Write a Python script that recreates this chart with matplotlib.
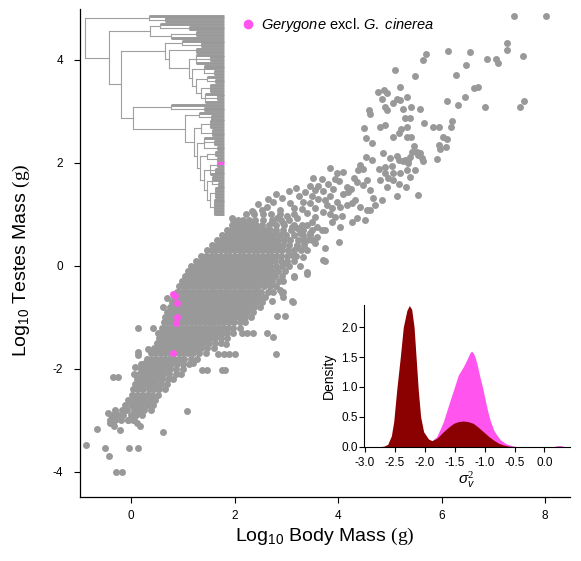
import matplotlib

matplotlib.use("Agg")
import matplotlib.pyplot as plt
from matplotlib.lines import Line2D

plt.rcParams["font.family"] = ["Liberation Sans", "DejaVu Sans"]
plt.rcParams["mathtext.fontset"] = "custom"
plt.rcParams["mathtext.rm"] = "Liberation Serif"
plt.rcParams["mathtext.it"] = "Liberation Sans:italic"
plt.rcParams["mathtext.sf"] = "Liberation Sans"
plt.rcParams["axes.unicode_minus"] = False

GREY = "#999999"
PINK = "#FF55EE"
DARK = "#8B0000"

# ---- scatter data: log10 body mass (x), log10 testes mass (y) ----
# sparse points in the lower tail, read one by one
lower_tail = [
    (-0.87, -3.48), (-0.50, -3.53), (-0.43, -3.70), (-0.28, -4.01), (-0.18, -4.01),
    (-0.04, -3.53), (0.13, -3.53), (-0.66, -3.16), (0.61, -3.22), (1.08, -2.81),
    (-0.44, -2.86), (-0.36, -2.93), (-0.40, -3.05), (-0.32, -3.12), (-0.22, -3.18),
    (-0.06, -2.99), (0.05, -2.99), (0.12, -3.05), (0.17, -3.12), (-0.34, -2.15),
    (-0.25, -2.15), (0.06, -2.10), (0.08, -1.96), (0.20, -1.90), (0.28, -1.88),
    (0.37, -1.90), (0.14, -1.67), (0.14, -1.73), (0.33, -1.61), (0.46, -1.67),
    (0.13, -1.21), (0.42, -1.21), (0.53, -1.31), (0.61, -0.80), (0.69, -0.62),
]

# sparse points around the right/lower edge of the main cloud
core_edge = [
    (1.69, -1.71), (1.79, -1.71), (1.90, -1.71), (2.01, -1.71), (2.80, -1.71),
    (1.75, -2.03), (1.82, -2.03), (1.37, -2.03), (1.46, -2.03), (1.20, -1.88),
    (2.62, -1.31), (2.75, -1.38), (2.82, -0.98), (2.98, -0.97), (3.12, -0.71),
    (2.94, -0.50), (2.94, -0.60), (2.14, -1.31), (2.25, -1.31), (2.36, -1.31),
    (1.84, -1.51), (3.15, -0.19), (3.40, -0.16), (3.71, 0.12), (3.11, -0.69),
    (2.88, -0.47), (2.91, -0.53), (2.72, -0.69),
]

# dense core, read row by row: (y, [x, ...])
core_rows = [
    (-3.0, [-0.40, -0.30, -0.20, -0.05, 0.04]),
    (-2.9, [-0.36, -0.25, -0.15, 0.00, 0.10, 0.22]),
    (-2.8, [-0.30, -0.18, -0.08, 0.05, 0.16, 0.26, 0.38]),
    (-2.7, [-0.12, 0.00, 0.10, 0.20, 0.31, 0.42]),
    (-2.6, [-0.05, 0.06, 0.15, 0.26, 0.36, 0.47]),
    (-2.5, [0.02, 0.12, 0.22, 0.30, 0.41, 0.52]),
    (-2.4, [0.04, 0.14, 0.24, 0.34, 0.44, 0.55, 0.66]),
    (-2.3, [0.08, 0.17, 0.27, 0.36, 0.46, 0.57, 0.70]),
    (-2.2, [0.12, 0.21, 0.30, 0.40, 0.50, 0.60, 0.71, 0.82]),
    (-2.1, [0.16, 0.25, 0.34, 0.43, 0.53, 0.62, 0.73, 0.86, 0.97]),
    (-2.0, [0.20, 0.29, 0.38, 0.47, 0.56, 0.65, 0.75, 0.86, 1.00]),
    (-1.9, [0.24, 0.33, 0.42, 0.51, 0.60, 0.69, 0.78, 0.88, 1.00, 1.12]),
    (-1.8, [0.30, 0.39, 0.48, 0.57, 0.66, 0.75, 0.84, 0.93, 1.03, 1.15, 1.28]),
    (-1.7, [0.38, 0.47, 0.56, 0.65, 0.74, 0.83, 0.92, 1.01, 1.10, 1.20, 1.32, 1.45]),
    (-1.6, [0.44, 0.53, 0.62, 0.71, 0.80, 0.89, 0.98, 1.07, 1.16, 1.25, 1.35, 1.47, 1.60]),
    (-1.5, [0.50, 0.59, 0.68, 0.77, 0.86, 0.95, 1.04, 1.13, 1.22, 1.31, 1.40, 1.50, 1.62, 1.74]),
    (-1.4, [0.54, 0.63, 0.72, 0.81, 0.90, 0.99, 1.08, 1.17, 1.26, 1.35, 1.44, 1.53, 1.63,
            1.74, 1.86]),
    (-1.3, [0.58, 0.67, 0.76, 0.85, 0.94, 1.03, 1.12, 1.21, 1.30, 1.39, 1.48, 1.57, 1.66,
            1.76, 1.86, 1.98]),
    (-1.2, [0.60, 0.69, 0.78, 0.87, 0.96, 1.05, 1.14, 1.23, 1.32, 1.41, 1.50, 1.59, 1.68,
            1.77, 1.87, 1.98, 2.10]),
    (-1.1, [0.63, 0.72, 0.81, 0.90, 0.99, 1.08, 1.17, 1.26, 1.35, 1.44, 1.53, 1.62, 1.71,
            1.80, 1.89, 1.99, 2.10, 2.21]),
    (-1.0, [0.66, 0.75, 0.84, 0.93, 1.02, 1.11, 1.20, 1.29, 1.38, 1.47, 1.56, 1.65, 1.74,
            1.83, 1.92, 2.01, 2.11, 2.21, 2.31]),
    (-0.9, [0.70, 0.79, 0.88, 0.97, 1.06, 1.15, 1.24, 1.33, 1.42, 1.51, 1.60, 1.69, 1.78,
            1.87, 1.96, 2.05, 2.14, 2.24, 2.35]),
    (-0.8, [0.75, 0.84, 0.93, 1.02, 1.11, 1.20, 1.29, 1.38, 1.47, 1.56, 1.65, 1.74, 1.83,
            1.92, 2.01, 2.10, 2.19, 2.28, 2.38, 2.50]),
    (-0.7, [0.79, 0.88, 0.97, 1.06, 1.15, 1.24, 1.33, 1.42, 1.51, 1.60, 1.69, 1.78, 1.87,
            1.96, 2.05, 2.14, 2.23, 2.32, 2.42, 2.53]),
    (-0.6, [0.84, 0.93, 1.02, 1.11, 1.20, 1.29, 1.38, 1.47, 1.56, 1.65, 1.74, 1.83, 1.92,
            2.01, 2.10, 2.19, 2.28, 2.37, 2.47, 2.58]),
    (-0.5, [0.89, 0.98, 1.07, 1.16, 1.25, 1.34, 1.43, 1.52, 1.61, 1.70, 1.79, 1.88, 1.97,
            2.06, 2.15, 2.24, 2.33, 2.42, 2.52, 2.64, 2.75]),
    (-0.4, [0.93, 1.02, 1.11, 1.20, 1.29, 1.38, 1.47, 1.56, 1.65, 1.74, 1.83, 1.92, 2.01,
            2.10, 2.19, 2.28, 2.37, 2.46, 2.56, 2.68, 2.80]),
    (-0.3, [0.98, 1.07, 1.16, 1.25, 1.34, 1.43, 1.52, 1.61, 1.70, 1.79, 1.88, 1.97, 2.06,
            2.15, 2.24, 2.33, 2.42, 2.51, 2.61, 2.73, 2.85]),
    (-0.2, [1.05, 1.14, 1.23, 1.32, 1.41, 1.50, 1.59, 1.68, 1.77, 1.86, 1.95, 2.04, 2.13,
            2.22, 2.31, 2.40, 2.49, 2.58, 2.67, 2.78, 2.92]),
    (-0.1, [1.10, 1.19, 1.28, 1.37, 1.46, 1.55, 1.64, 1.73, 1.82, 1.91, 2.00, 2.09, 2.18,
            2.27, 2.36, 2.45, 2.54, 2.63, 2.72, 2.83, 2.97]),
    (0.0, [1.16, 1.25, 1.34, 1.43, 1.52, 1.61, 1.70, 1.79, 1.88, 1.97, 2.06, 2.15, 2.24,
           2.33, 2.42, 2.51, 2.60, 2.69, 2.80, 2.92, 3.06]),
    (0.1, [1.26, 1.35, 1.44, 1.53, 1.62, 1.71, 1.80, 1.89, 1.98, 2.07, 2.16, 2.25, 2.34,
           2.43, 2.52, 2.61, 2.70, 2.79, 2.90, 3.02, 3.14]),
    (0.2, [1.36, 1.45, 1.54, 1.63, 1.72, 1.81, 1.90, 1.99, 2.08, 2.17, 2.26, 2.35, 2.44,
           2.53, 2.62, 2.71, 2.80, 2.90, 3.01, 3.18]),
    (0.3, [1.47, 1.56, 1.65, 1.74, 1.83, 1.92, 2.01, 2.10, 2.19, 2.28, 2.37, 2.46, 2.55,
           2.64, 2.73, 2.82, 2.92, 3.03, 3.15, 3.28]),
    (0.4, [1.57, 1.66, 1.75, 1.84, 1.93, 2.02, 2.11, 2.20, 2.29, 2.38, 2.47, 2.56, 2.65,
           2.74, 2.83, 2.93, 3.05, 3.20, 3.34]),
    (0.5, [1.66, 1.75, 1.84, 1.93, 2.02, 2.11, 2.20, 2.29, 2.38, 2.47, 2.56, 2.65, 2.74,
           2.84, 2.95, 3.08, 3.22, 3.40]),
    (0.6, [1.76, 1.85, 1.94, 2.03, 2.12, 2.21, 2.30, 2.39, 2.48, 2.57, 2.66, 2.76, 2.87,
           3.00, 3.15, 3.33, 3.46]),
    (0.7, [1.86, 1.95, 2.04, 2.13, 2.22, 2.31, 2.40, 2.49, 2.58, 2.68, 2.80, 2.94, 3.10,
           3.28, 3.50]),
    (0.8, [1.96, 2.05, 2.14, 2.23, 2.32, 2.42, 2.53, 2.66, 2.80, 2.96, 3.15, 3.30]),
    (0.9, [2.06, 2.16, 2.27, 2.40, 2.55, 2.72, 2.90, 3.05]),
    (1.0, [2.22, 2.38, 2.55, 2.70, 2.88]),
]

# upper arm of the cloud (larger species)
upper_arm = [
    (4.77, 3.37), (4.94, 3.35), (5.34, 3.29), (6.10, 3.21), (6.45, 3.29), (6.32, 3.13),
    (6.84, 3.08), (7.52, 3.09), (7.59, 3.20), (4.59, 3.03), (4.62, 2.95), (4.91, 3.09),
    (4.94, 3.02), (5.07, 3.16), (5.20, 3.22), (5.40, 3.09), (5.58, 3.04), (5.29, 2.87),
    (5.39, 2.87), (5.66, 2.78), (5.84, 2.70), (5.94, 2.69), (6.20, 2.82), (6.18, 2.69),
    (6.02, 2.51), (6.10, 2.46), (5.94, 2.35), (5.97, 2.27), (6.09, 2.30), (5.92, 2.08),
    (5.54, 1.38), (4.51, 2.67), (4.54, 2.49), (4.66, 2.39), (4.81, 2.69), (4.90, 2.74),
    (5.06, 2.50), (5.17, 2.59), (5.22, 2.65), (5.33, 2.70), (5.33, 2.51), (5.40, 2.51),
    (4.86, 2.20), (5.13, 2.14), (5.00, 2.09), (5.42, 2.22), (5.58, 2.19), (5.64, 2.03),
    (5.47, 2.32), (5.36, 2.06), (5.26, 2.03), (4.54, 2.11), (4.65, 2.06), (4.43, 1.96),
    (4.49, 1.88), (4.39, 1.86), (4.79, 1.88), (4.91, 1.93), (5.04, 1.94), (5.07, 1.80),
    (4.91, 1.80), (5.20, 1.80), (5.33, 1.86), (5.39, 1.72), (5.49, 1.86), (4.81, 1.67),
    (4.97, 1.70), (5.07, 1.66), (5.17, 1.59), (4.94, 1.54), (5.31, 1.54), (5.13, 1.36),
    (4.84, 1.27), (4.55, 1.67), (4.49, 1.57), (4.62, 1.48), (4.68, 1.31), (4.71, 1.18),
    (4.62, 1.09), (4.30, 1.70), (4.36, 1.62), (4.17, 1.54), (4.20, 1.44), (4.10, 1.83),
    (3.97, 1.80), (3.85, 1.90), (3.94, 1.68), (4.01, 1.64), (3.68, 1.68), (3.56, 1.48),
    (3.36, 1.44), (3.75, 1.28), (3.78, 1.18), (3.88, 1.12), (3.97, 1.25), (4.04, 1.15),
    (4.17, 1.18), (4.26, 1.22), (4.33, 1.28), (4.43, 1.15), (4.52, 0.89), (4.55, 1.09),
    (4.36, 0.93), (4.26, 0.86), (4.07, 0.96), (4.04, 0.76), (3.88, 0.86), (3.75, 0.70),
    (4.01, 0.47), (3.75, 0.34), (3.75, 0.10), (3.46, 1.22), (3.56, 1.12), (3.33, 1.25),
    (3.40, 1.02), (3.20, 0.93), (3.49, 0.86), (3.59, 0.76), (3.68, 0.70), (3.59, 0.57),
    (3.46, 0.63), (3.33, 0.70), (3.56, 0.44), (3.40, 0.31), (3.33, 0.18), (3.20, 0.37),
    (3.11, 0.21), (2.98, 0.05), (3.27, -0.01), (3.40, -0.11), (3.14, -0.21), (2.94, -0.30),
    (2.91, 1.31), (2.75, 1.25), (2.62, 1.15), (2.53, 1.09), (2.36, 1.05), (2.17, 0.83),
    (1.98, 0.89), (2.27, 0.86), (3.07, 1.22), (3.14, 1.12), (2.88, 1.09), (3.01, 0.96),
    (2.82, 0.93), (2.72, 0.86), (2.94, 0.83), (3.11, 0.76), (3.20, 0.73), (3.27, 0.63),
    (2.33, 1.07), (1.95, 0.93), (4.88, 3.42), (4.84, 3.24), (5.13, 3.24), (5.26, 3.04),
    (7.39, 4.85), (8.02, 4.85), (7.26, 4.32), (7.26, 4.19), (7.57, 4.08), (6.55, 4.16),
    (6.12, 4.18), (6.87, 4.01), (7.05, 4.01), (7.09, 3.95), (5.70, 4.12), (5.65, 4.00),
    (6.47, 3.90), (5.10, 3.81), (5.49, 3.68), (6.28, 3.70), (5.20, 3.48), (6.63, 3.46),
    (6.70, 3.48), (5.52, 2.22), (5.62, 2.09), (5.55, 2.16), (5.38, 2.12), (5.29, 2.06),
    (5.36, 1.99), (5.18, 2.06),
    # extra reads in the moderately dense band between the core and the upper arm
    (3.05, 1.45), (3.18, 1.52), (3.25, 1.35), (3.45, 1.55), (3.52, 1.70), (3.62, 1.55),
    (3.70, 1.45), (3.80, 1.60), (3.90, 1.50), (3.62, 1.30), (3.50, 1.35), (3.30, 1.10),
    (3.15, 1.00), (3.85, 1.35), (4.10, 1.40), (4.25, 1.50), (3.70, 1.05), (3.85, 1.00),
    (3.95, 0.95), (3.55, 0.95), (3.40, 0.80), (3.30, 0.50), (3.50, 0.50), (2.80, 1.40),
    (2.65, 1.30), (2.45, 1.20),
]

# Gerygone excl. G. cinerea
gerygone = [(0.81, -0.54), (0.85, -0.58), (0.88, -0.72), (0.88, -1.00), (0.87, -1.11),
            (0.81, -1.70)]

# ---- phylogeny inset: (node depth, children...), leaves 't', Gerygone leaf 'g' ----
clade_a = (0.46, "t", (0.58, "t", "t"))
clade_c = (0.47, (0.54, "t", (0.75, "t", "t")), (0.62, (0.80, "t", "t"), "t"))
clade_e = (0.58,
           (0.70, "t", (0.84, "t", "t")),
           (0.61,
            (0.80, "t", "t"),
            (0.75,
             (0.80, "t", (0.90, "t", "t"), "t"),
             (0.77,
              (0.86, "t", "t", (0.93, "t", "t")),
              (0.80,
               (0.88, "t", (0.94, "t", "t")),
               (0.84,
                (0.90, "t", "t", "t"),
                (0.87, "t", (0.95, "t", "t"), "t")))))))
clade_f = (0.35,
           (0.62, "t", (0.86, "t", "t")),
           (0.72,
            (0.82, "t", (0.91, "t", "t")),
            (0.785,
             (0.84, (0.90, "t", "t", "t"), (0.92, "t", "t", "t")),
             (0.81,
              (0.86, "t", (0.93, "t", "t"), (0.95, "t", "t")),
              (0.83,
               (0.88, (0.94, "t", "t"), (0.95, "t", "t")),
               (0.857,
                (0.90, (0.95, "g", "t"), (0.94, "t", "t"), "t"),
                (0.88,
                 (0.92, "t", "t", (0.96, "t", "t")),
                 (0.90,
                  (0.94, "t", "t", "t", "t"),
                  (0.93, "t", "t", "t", "t", "t", "t")))))))))
tree = (0.0, clade_a, (0.17, clade_c, (0.26, clade_e, clade_f)))

# ---- posterior density of sigma_v^2 ----
dark_x = [-2.75, -2.68, -2.62, -2.56, -2.52, -2.47, -2.41, -2.36, -2.30, -2.26, -2.22,
          -2.18, -2.15, -2.11, -2.07, -2.02, -1.94, -1.88, -1.80, -1.69, -1.60, -1.52,
          -1.44, -1.36, -1.28, -1.19, -1.10, -1.02, -0.93, -0.85, -0.77, -0.69, -0.60,
          -0.52]
dark_y = [0.0, 0.01, 0.04, 0.18, 0.42, 0.95, 1.50, 2.00, 2.28, 2.36, 2.30, 2.00, 1.55,
          0.95, 0.50, 0.25, 0.13, 0.10, 0.14, 0.25, 0.33, 0.39, 0.42, 0.43, 0.42, 0.39,
          0.32, 0.25, 0.17, 0.11, 0.06, 0.03, 0.01, 0.0]
pink_x = [-1.95, -1.88, -1.80, -1.75, -1.69, -1.63, -1.57, -1.52, -1.44, -1.36, -1.30,
          -1.25, -1.22, -1.19, -1.16, -1.12, -1.08, -1.03, -0.99, -0.95, -0.91, -0.85,
          -0.80, -0.74, -0.69, -0.62, -0.55, -0.46, 0.15, 0.20, 0.25, 0.30, 0.33]
pink_y = [0.10, 0.10, 0.17, 0.28, 0.42, 0.61, 0.80, 0.95, 1.20, 1.33, 1.45, 1.56, 1.60,
          1.57, 1.50, 1.35, 1.17, 0.97, 0.78, 0.60, 0.45, 0.28, 0.20, 0.12, 0.08, 0.04,
          0.02, 0.0, 0.0, 0.015, 0.02, 0.015, 0.0]


def draw_clade(ax, node, x_parent, counter):
    """Draw a clade as a rectangular cladogram; return the node's y position."""
    if isinstance(node, str):
        y = counter[0]
        counter[0] += 1
        color = PINK if node == "g" else GREY
        ax.plot([x_parent, 1.0], [y, y], color=color, lw=2.1,
                solid_capstyle="butt", clip_on=False, zorder=3 if node == "g" else 2)
        return y
    x_node, *children = node
    ys = [draw_clade(ax, child, x_node, counter) for child in children]
    ax.plot([x_node, x_node], [ys[0], ys[-1]], color="#A0A0A0", lw=0.8, clip_on=False)
    y = (ys[0] + ys[-1]) / 2
    if x_parent is not None:
        ax.plot([x_parent, x_node], [y, y], color="#A0A0A0", lw=0.8, clip_on=False)
    return y


all_points = list(lower_tail) + list(core_edge) + list(upper_arm)
for row_y, row_xs in core_rows:
    all_points += [(x, row_y) for x in row_xs]
body = [p[0] for p in all_points]
testes = [p[1] for p in all_points]

fig = plt.figure(figsize=(5.81, 5.61), dpi=100)
ax = fig.add_axes([80 / 581, 64 / 561, 490 / 581, 488 / 561])
ax.scatter(body, testes, s=25, c=GREY, linewidths=0, zorder=2)
ax.scatter([p[0] for p in gerygone], [p[1] for p in gerygone], s=25, c=PINK,
           linewidths=0, zorder=3)
ax.set_xlim(-0.985, 8.48)
ax.set_ylim(-4.49, 4.99)
ax.set_xticks([0, 2, 4, 6, 8])
ax.set_yticks([-4, -2, 0, 2, 4])
for side in ("top", "right"):
    ax.spines[side].set_visible(False)
for side in ("left", "bottom"):
    ax.spines[side].set_linewidth(0.9)
ax.tick_params(axis="both", direction="out", length=4.3, width=0.8, labelsize=8.5)
ax.tick_params(axis="x", pad=5)
ax.tick_params(axis="y", pad=8)
ax.set_xlabel(r"Log$_{\mathsf{10}}$ Body Mass $(\mathrm{g})$", fontsize=14, labelpad=3)
ax.set_ylabel(r"Log$_{\mathsf{10}}$ Testes Mass $(\mathrm{g})$", fontsize=14)
ax.yaxis.set_label_coords(-0.098, 0.485)

handle = Line2D([], [], marker="o", linestyle="", color=PINK, markersize=6)
ax.legend([handle], [r"$\mathit{Gerygone}$ excl. $\mathit{G.\ cinerea}$"],
          loc="center left", bbox_to_anchor=(0.328, 0.967), frameon=False,
          fontsize=10.5, handlelength=1.0, handletextpad=0.4, borderpad=0,
          borderaxespad=0)

# phylogeny inset, top left
tax = fig.add_axes([85 / 581, (561 - 213.5) / 561, 138.5 / 581, 198 / 561])
tax.set_facecolor("none")
draw_clade(tax, tree, None, [0])
tax.set_xlim(0, 1)
tax.set_ylim(71, 0)
tax.axis("off")

# density inset, bottom right
dax = fig.add_axes([364 / 581, (561 - 446.7) / 561, 206 / 581, 141.7 / 561])
dax.set_facecolor("none")
dax.fill_between(pink_x, pink_y, 0, color=PINK, linewidth=0)
dax.fill_between(dark_x, dark_y, 0, color=DARK, linewidth=0)
dax.set_xlim(-3.017, 0.427)
dax.set_ylim(0, 2.37)
dax.set_xticks([-3.0, -2.5, -2.0, -1.5, -1.0, -0.5, 0.0])
dax.set_xticklabels(["-3.0", "-2.5", "-2.0", "-1.5", "-1.0", "-0.5", "0.0"])
dax.set_yticks([0.0, 0.5, 1.0, 1.5, 2.0])
dax.set_yticklabels(["0.0", "0.5", "1.0", "1.5", "2.0"])
for side in ("top", "right"):
    dax.spines[side].set_visible(False)
for side in ("left", "bottom"):
    dax.spines[side].set_linewidth(0.8)
dax.tick_params(axis="both", direction="out", length=3.5, width=0.8, labelsize=8.5)
dax.tick_params(axis="x", pad=4)
dax.tick_params(axis="y", pad=1)
dax.set_ylabel("Density", fontsize=10, labelpad=4)
dax.set_xlabel(r"$\sigma_v^2$", fontsize=11, labelpad=0)

fig.savefig("out.png", dpi=100)
plt.close(fig)
